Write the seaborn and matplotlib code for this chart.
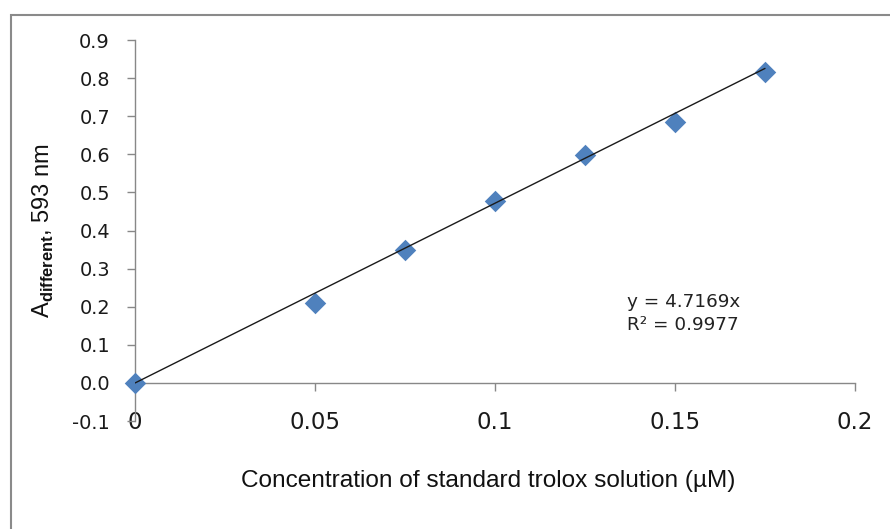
import matplotlib
matplotlib.use("Agg")
import matplotlib.pyplot as plt
import seaborn as sns
import numpy as np
import pandas as pd
from matplotlib.patches import Rectangle

# ---- data ----
concentration = [0.0, 0.05, 0.075, 0.1, 0.125, 0.15, 0.175]
absorbance = [0.0, 0.21, 0.348, 0.478, 0.598, 0.685, 0.816]
slope = 4.7169
r_squared = 0.9977
x_ticks = [0, 0.05, 0.1, 0.15, 0.2]
x_tick_labels = ["0", "0.05", "0.1", "0.15", "0.2"]
y_ticks = [-0.1, 0.0, 0.1, 0.2, 0.3, 0.4, 0.5, 0.6, 0.7, 0.8, 0.9]
y_tick_labels = ["-0.1", "0.0", "0.1", "0.2", "0.3", "0.4", "0.5", "0.6", "0.7", "0.8", "0.9"]

df = pd.DataFrame({"conc": concentration, "abs": absorbance})
trend_x = [min(concentration), max(concentration)]
trend = pd.DataFrame({"conc": trend_x, "abs": [slope * v for v in trend_x]})

sns.set_style("white")
plt.rcParams["font.family"] = ["Liberation Sans", "DejaVu Sans"]
plt.rcParams["mathtext.fontset"] = "custom"
plt.rcParams["mathtext.rm"] = "Liberation Sans"
plt.rcParams["mathtext.bf"] = "Liberation Sans:bold"

W, H = 890, 529
fig = plt.figure(figsize=(W / 100, H / 100), dpi=100)
fig.patch.set_facecolor("white")

# outer chart frame
fig.patches.append(Rectangle((11 / W, -0.1), 1.2, (H - 15) / H + 0.1,
                             transform=fig.transFigure, fill=False,
                             edgecolor="#8a8a8a", linewidth=1.5))

left, right = 135 / W, 855 / W
top, bottom = 40, 421.1
ax = fig.add_axes([left, (H - bottom) / H, right - left, (bottom - top) / H])
ax.set_facecolor("white")

sns.lineplot(data=trend, x="conc", y="abs", ax=ax, color="#1a1a1a",
             linewidth=1.0, zorder=3)
sns.scatterplot(data=df, x="conc", y="abs", ax=ax, marker="D", s=120,
                color="#4F81BD", edgecolor="#4F81BD", linewidth=0, zorder=2,
                clip_on=False)

ax.set_xlim(0, 0.2)
ax.set_ylim(-0.1, 0.9)

for s in ["top", "right"]:
    ax.spines[s].set_visible(False)
ax.spines["bottom"].set_position(("data", 0))
for s in ["left", "bottom"]:
    ax.spines[s].set_color("#888888")
    ax.spines[s].set_linewidth(1.0)
    ax.spines[s].set_zorder(1)

ax.set_yticks(y_ticks)
ax.set_yticklabels(y_tick_labels, fontsize=13.9, family="DejaVu Sans", color="#1a1a1a")
ax.set_xticks(x_ticks)
ax.set_xticklabels(x_tick_labels, fontsize=16.5, family="DejaVu Sans", color="#1a1a1a")
ax.tick_params(axis="y", direction="out", length=6, width=1, color="#888888", pad=12, left=True)
ax.tick_params(axis="x", direction="out", length=5.5, width=1, color="#888888", pad=15, bottom=True)

ax.set_xlabel("Concentration of standard trolox solution (µM)", fontsize=17.6, color="#111111")
ax.xaxis.set_label_coords(0.49, -0.128)
ax.set_ylabel(r"A$_{\mathbf{different}}$, 593 nm", fontsize=17, color="#111111")
ax.yaxis.set_label_coords(-0.11, 0.5)

ax.text(627, H - 302, f"y = {slope}x", transform=None, fontsize=13.2, family="DejaVu Sans",
        color="#222222", va="center", ha="left")
ax.text(627, H - 325, f"R² = {r_squared}", transform=None, fontsize=13.2, family="DejaVu Sans",
        color="#222222", va="center", ha="left")

fig.savefig("out.png", dpi=100, facecolor="white")
